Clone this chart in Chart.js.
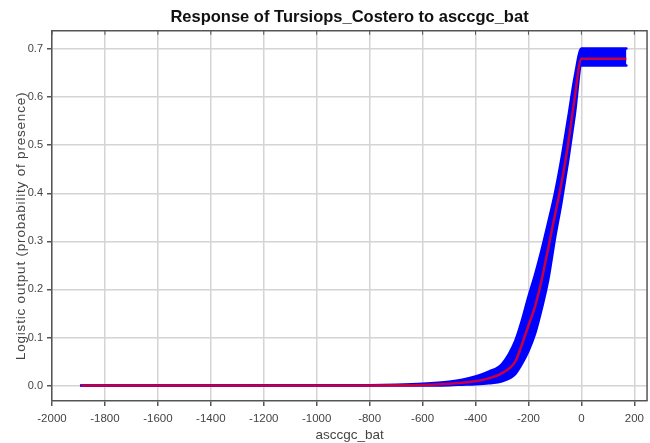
<!DOCTYPE html>
<html>
<head>
<meta charset="utf-8">
<title>Response of Tursiops_Costero to asccgc_bat</title>
<script src="https://cdn.jsdelivr.net/npm/chart.js@4.4.0/dist/chart.umd.min.js"></script>
<style>
  html, body { margin: 0; padding: 0; background: #fff; }
  #wrap { width: 650px; height: 443px; }
</style>
</head>
<body>
<div id="wrap"><canvas id="responseChart" width="650" height="443"></canvas></div>
<script>
// --- data ---
const xValues = [-1890, -1500, -1000, -800, -700, -600, -500, -450, -400, -350, -300, -250, -225, -200,
                 -175, -150, -125, -100, -75, -50, -25, 0, 50, 100, 170];
// mean response (red line)
const meanValues = [0, 0, 0, 0, 0.0005, 0.0015, 0.004, 0.006, 0.009, 0.015, 0.026, 0.050, 0.085, 0.125,
                    0.165, 0.22, 0.287, 0.355, 0.422, 0.503, 0.60, 0.68, 0.68, 0.68, 0.68];
// mean +/- one standard deviation (blue band)
const upperValues = [0, 0, 0.0005, 0.001, 0.002, 0.004, 0.008, 0.012, 0.019, 0.029, 0.045, 0.093, 0.135, 0.185,
                     0.231, 0.283, 0.34, 0.40, 0.473, 0.557, 0.643, 0.701, 0.701, 0.701, 0.701];
const lowerValues = [0, 0, 0, 0, 0, 0, 0.001, 0.002, 0.003, 0.005, 0.009, 0.024, 0.045, 0.072,
                     0.108, 0.160, 0.221, 0.306, 0.382, 0.468, 0.564, 0.666, 0.666, 0.666, 0.666];

const xTicks = [-2000, -1800, -1600, -1400, -1200, -1000, -800, -600, -400, -200, 0, 200];
const yTicks = [0, 0.1, 0.2, 0.3, 0.4, 0.5, 0.6, 0.7];
const yTitle = 'Logistic output (probability of presence)';

const toPoints = (ys) => xValues.map((x, i) => ({ x: x, y: ys[i] }));

// frame on top/right, small inner ticks along the top, and the y-axis title
const framePlugin = {
    id: 'frame',
    afterDraw(chart) {
        const { ctx, chartArea: a, scales } = chart;
        ctx.save();
        ctx.strokeStyle = '#555';
        ctx.lineWidth = 1.5;
        ctx.beginPath();
        ctx.moveTo(a.left, a.top);
        ctx.lineTo(a.right, a.top);
        ctx.lineTo(a.right, a.bottom);
        ctx.stroke();
        ctx.lineWidth = 1;
        xTicks.forEach(v => {
            const px = scales.x.getPixelForValue(v);
            ctx.beginPath();
            ctx.moveTo(px, a.top);
            ctx.lineTo(px, a.top + 4);
            ctx.stroke();
        });

        // y title (a bit below the middle, like the original)
        ctx.translate(21, (a.top + a.bottom) / 2 + 10);
        ctx.rotate(-Math.PI / 2);
        ctx.font = '13.5px "Liberation Sans"';
        if ('letterSpacing' in ctx) ctx.letterSpacing = '0.8px';
        ctx.fillStyle = '#444';
        ctx.textAlign = 'center';
        ctx.textBaseline = 'middle';
        ctx.fillText(yTitle, 0, 0);
        ctx.restore();
    }
};

const ctx = document.getElementById('responseChart').getContext('2d');
new Chart(ctx, {
    type: 'line',
    data: {
        datasets: [
            {
                label: 'mean',
                data: toPoints(meanValues),
                borderColor: 'rgba(235, 0, 30, 0.85)',
                borderWidth: 2.5,
                pointRadius: 0,
                fill: false,
                cubicInterpolationMode: 'monotone'
            },
            {
                label: 'mean + sd',
                data: toPoints(upperValues),
                borderColor: '#0000ff',
                backgroundColor: '#0000ff',
                borderWidth: 2.5,
                borderJoinStyle: 'round',
                borderCapStyle: 'round',
                pointRadius: 0,
                fill: '+1',
                cubicInterpolationMode: 'monotone'
            },
            {
                label: 'mean - sd',
                data: toPoints(lowerValues),
                borderColor: '#0000ff',
                borderWidth: 2.5,
                borderJoinStyle: 'round',
                borderCapStyle: 'round',
                pointRadius: 0,
                fill: false,
                cubicInterpolationMode: 'monotone'
            }
        ]
    },
    options: {
        responsive: false,
        animation: false,
        layout: { padding: { top: 0, right: 2, bottom: 0, left: 0 } },
        scales: {
            x: {
                type: 'linear',
                min: -2000,
                max: 248,
                afterBuildTicks: (s) => { s.ticks = xTicks.map(v => ({ value: v })); },
                afterFit: (s) => { s.height = 42; },
                ticks: {
                    autoSkip: false,
                    maxRotation: 0,
                    padding: 6,
                    color: '#444',
                    font: { family: 'Liberation Sans', size: 11.5 },
                    callback: (v) => String(v)
                },
                grid: { color: '#d4d4d4', lineWidth: 1.5, tickColor: '#555', tickLength: 5 },
                border: { color: '#555', width: 1.5 },
                title: {
                    display: true,
                    text: 'asccgc_bat',
                    color: '#444',
                    font: { family: 'Liberation Sans', size: 13.5 },
                    padding: { top: 0, bottom: 0 }
                }
            },
            y: {
                type: 'linear',
                min: -0.032,
                max: 0.738,
                afterBuildTicks: (s) => { s.ticks = yTicks.map(v => ({ value: v })); },
                afterFit: (s) => { s.width = 52; },
                ticks: {
                    padding: 4,
                    color: '#444',
                    font: { family: 'Liberation Sans', size: 11 },
                    callback: (v) => v.toFixed(1)
                },
                grid: { color: '#d4d4d4', lineWidth: 1.5, tickColor: '#555', tickLength: 5 },
                border: { color: '#555', width: 1.5 }
            }
        },
        plugins: {
            legend: { display: false },
            tooltip: { enabled: false },
            title: {
                display: true,
                fullSize: false,
                text: 'Response of Tursiops_Costero to asccgc_bat',
                color: '#111',
                font: { family: 'Liberation Sans', size: 16.5, weight: 'bold' },
                padding: { top: 8, bottom: 3 }
            }
        }
    },
    plugins: [framePlugin]
});
</script>
</body>
</html>
